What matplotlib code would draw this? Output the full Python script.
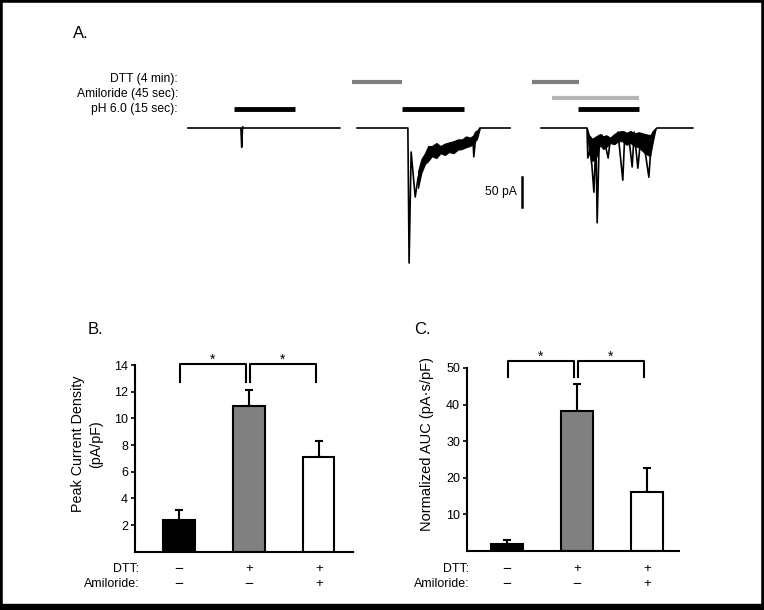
import matplotlib
matplotlib.use("Agg")
import matplotlib.pyplot as plt
from matplotlib.patches import Rectangle
import matplotlib.transforms as mtransforms

plt.rcParams['font.family'] = ['Liberation Sans', 'DejaVu Sans']

# ---- A: example sweeps, time (s) vs current (pA)
sweep1_t = [0, 13.0, 13.2, 13.4, 13.6, 37.3]
sweep1_i = [0, 0, -32, 2, 0, 0]

sweep2_t = [0, 12.5, 12.8, 13.3, 14.3, 15.0, 16.7, 18.4, 21.6, 25.8, 28.5, 28.7, 29.2, 30.2, 37.6]
sweep2_i = [0, 0, -225, -40, -115, -83, -50, -37, -37, -25, -20, -48, -12, 0, 0]
sweep2_band_t = [15.0, 15.8, 16.7, 17.5, 18.4, 19.5, 20.5, 21.6, 22.6, 23.7, 24.8, 25.8, 26.8,
                 27.7, 28.5, 29.0, 29.5, 30.2]
sweep2_band_hi = [-72, -52, -42, -30, -30, -25, -30, -26, -24, -22, -19, -19, -14,
                  -16, -13, -6, -4, 0]
sweep2_band_lo = [-100, -75, -60, -55, -47, -50, -42, -45, -40, -42, -36, -35, -32,
                  -30, -27, -22, -18, 0]

sweep3_t = [0, 11.3, 11.5, 12.0, 12.5, 13.0, 13.5, 13.8, 14.3, 15.0, 15.7, 16.5, 17.0, 18.2,
            18.9, 20.1, 20.6, 21.6, 22.4, 22.9, 23.8, 24.6, 25.6, 26.5, 27.0, 27.5, 28.5, 37.3]
sweep3_i = [0, 0, -50, -37, -62, -107, -17, -158, -23, -12, -25, -50, -20, -25,
            -7, -87, -7, -17, -65, -7, -67, -10, -40, -82, -33, -7, 0, 0]
sweep3_band_t = [11.3, 11.8, 12.6, 13.5, 14.5, 15.3, 16.0, 17.0, 18.0, 19.0, 20.0, 21.0, 22.0,
                 23.0, 24.0, 25.5, 26.8, 27.5, 28.2]
sweep3_band_hi = [0, -12, -18, -14, -10, -14, -12, -16, -10, -6, -5, -8, -5,
                  -9, -7, -10, -12, -6, 0]
sweep3_band_lo = [0, -42, -55, -50, -28, -35, -32, -25, -27, -22, -22, -28, -25,
                  -30, -32, -42, -47, -22, 0]

# application periods (s) for each sweep, None = not applied
dtt_on = [None, -1.2, -2.2]
dtt_off = [None, 11.1, 9.3]
amil_on = [None, None, 2.7]
amil_off = [None, None, 24.1]
ph_on = [11.3, 11.1, 9.1]
ph_off = [26.3, 26.3, 24.1]

# ---- B / C: summary bars
dtt_row = ['\u2212', '+', '+']
amil_row = ['\u2212', '\u2212', '+']
peak_mean = [2.4, 10.9, 7.1]
peak_sem = [0.7, 1.2, 1.2]
auc_mean = [1.9, 38.2, 16.2]
auc_sem = [0.9, 7.3, 6.3]
bar_colors = ['black', '#808080', 'white']

W, H = 764, 610
fig = plt.figure(figsize=(W / 100, H / 100), dpi=100)


def px_axes(x0, ytop, w, h):
    return fig.add_axes([x0 / W, 1 - (ytop + h) / H, w / W, h / H])


# panel A
sweeps = [(sweep1_t, sweep1_i, None, None, None),
          (sweep2_t, sweep2_i, sweep2_band_t, sweep2_band_hi, sweep2_band_lo),
          (sweep3_t, sweep3_i, sweep3_band_t, sweep3_band_hi, sweep3_band_lo)]
starts = [188, 357, 541]
PX_S, PX_PA = 4.07, 0.6
sweep_axes = []
for k, (t, i, bt, bhi, blo) in enumerate(sweeps):
    ax = px_axes(starts[k] - 8 * PX_S, 128 - 90 * PX_PA, 48 * PX_S, 330 * PX_PA)
    ax.set_xlim(-8, 40)
    ax.set_ylim(-240, 90)
    ax.axis('off')
    ax.plot(t, i, color='black', lw=1.2)
    if bt is not None:
        ax.fill_between(bt, blo, bhi, color='black', lw=0.8)
    if dtt_on[k] is not None:
        ax.plot([dtt_on[k], dtt_off[k]], [76, 76], color='#7f7f7f', lw=3, solid_capstyle='butt')
    if amil_on[k] is not None:
        ax.plot([amil_on[k], amil_off[k]], [50, 50], color='#b5b5b5', lw=3, solid_capstyle='butt')
    ax.plot([ph_on[k], ph_off[k]], [32, 32], color='black', lw=3.5, solid_capstyle='butt')
    sweep_axes.append(ax)

# scale bar
sb = sweep_axes[2]
sb.plot([-4.7, -4.7], [-82, -132], color='black', lw=1.8, clip_on=False)
sb.text(-5.9, -107, '50 pA', ha='right', va='center', fontsize=8.7)

fig.text(178 / W, 1 - 79 / H, 'DTT (4 min):', ha='right', va='center', fontsize=8.7)
fig.text(178 / W, 1 - 94 / H, 'Amiloride (45 sec):', ha='right', va='center', fontsize=8.7)
fig.text(178 / W, 1 - 109 / H, 'pH 6.0 (15 sec):', ha='right', va='center', fontsize=8.7)
fig.text(73 / W, 1 - 38 / H, 'A.', fontsize=12)
fig.text(88 / W, 1 - 334 / H, 'B.', fontsize=12)
fig.text(414 / W, 1 - 334 / H, 'C.', fontsize=12)


def bar_panel(ax, mean, sem, ymax, yticks, ylabel, lab_xy, lab_fs, br_top, br_leg, row_x, row_y):
    x = range(len(mean))
    ax.bar(x, mean, width=0.45, color=bar_colors, edgecolor='black', linewidth=1.5, zorder=2)
    ax.errorbar(x, mean, yerr=[[0] * len(sem), sem], fmt='none', ecolor='black',
                elinewidth=1.5, capsize=3, capthick=1.5, zorder=1)
    ax.set_ylim(0, ymax)
    ax.set_yticks(yticks)
    ax.set_xticks([])
    for s in ['top', 'right']:
        ax.spines[s].set_visible(False)
    for s in ['left', 'bottom']:
        ax.spines[s].set_linewidth(1.5)
    ax.tick_params(axis='y', direction='out', length=3, width=1.2, labelsize=9, pad=2)
    ax.text(lab_xy[0], lab_xy[1], ylabel, rotation=90, ha='center', va='center',
            fontsize=lab_fs, linespacing=1.4, transform=ax.transAxes)
    for a, b in [(0, 1), (1, 2)]:
        x0, x1 = a + 0.01, b - 0.04
        ax.plot([x0, x0, x1, x1], [br_leg, br_top, br_top, br_leg], color='black',
                lw=1.5, clip_on=False)
        ax.text((x0 + x1) / 2, br_top, '*', ha='center', va='baseline', fontsize=10)
    trans = mtransforms.blended_transform_factory(ax.transData, ax.transAxes)
    ax.text(row_x, row_y[0], 'DTT:', ha='right', va='center', fontsize=8.9, transform=trans)
    ax.text(row_x, row_y[1], 'Amiloride:', ha='right', va='center', fontsize=8.9, transform=trans)
    for j in x:
        for lab, yy in [(dtt_row[j], row_y[0]), (amil_row[j], row_y[1])]:
            ax.text(j, yy, lab, ha='center', va='center', transform=trans,
                    fontsize=11 if lab == '\u2212' else 9.5)


axB = px_axes(135, 365, 218, 186.7)
axB.set_xlim(-0.63, 2.49)
bar_panel(axB, peak_mean, peak_sem, 14, [2, 4, 6, 8, 10, 12, 14],
          'Peak Current Density\n(pA/pF)', (-0.22, 0.577), 10.3, 14.08, 12.7, -0.57, (-0.093, -0.173))

axC = px_axes(467, 368, 212, 182.7)
axC.set_xlim(-0.571, 2.457)
bar_panel(axC, auc_mean, auc_sem, 50, [10, 20, 30, 40, 50],
          'Normalized AUC (pA\u00b7s/pF)', (-0.19, 0.584), 10.5, 51.9, 47.5, -0.54, (-0.10, -0.182))

# outer frame
fig.add_artist(Rectangle((0, 0), 1, 1, transform=fig.transFigure, fill=False, lw=4, ec='black'))
fig.add_artist(Rectangle((0, 0), 1, 6 / H, transform=fig.transFigure, color='black'))

fig.savefig('out.png', dpi=100)
